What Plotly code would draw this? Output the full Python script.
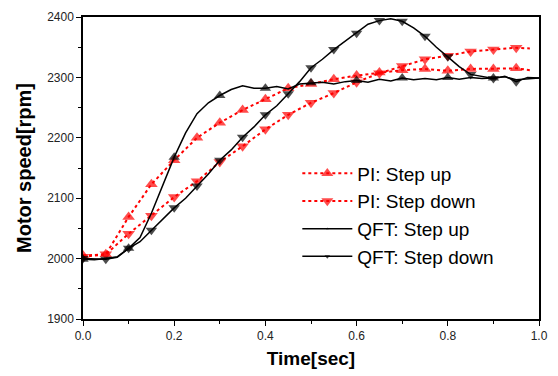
import plotly.graph_objects as go

# PI responses (every 0.05 s, plus line end)
t_pi = [0.0, 0.05, 0.1, 0.15, 0.2, 0.25, 0.3, 0.35, 0.4, 0.45, 0.5, 0.55, 0.6, 0.65, 0.7,
        0.75, 0.8, 0.85, 0.9, 0.95, 0.98]
pi_up = [2005, 2007, 2069, 2123, 2163, 2200, 2225, 2246, 2264, 2282, 2289, 2297, 2303, 2308,
         2312, 2314, 2311, 2314, 2314, 2315, 2312]
pi_down = [2003, 2007, 2041, 2071, 2102, 2128, 2160, 2186, 2214, 2238, 2258, 2274, 2292, 2307,
           2319, 2330, 2336, 2343, 2346, 2349, 2348]
pi_marked = [True] * 20 + [False]

# QFT responses (every 0.025 s)
t_qft = [round(0.025 * i, 3) for i in range(41)]
qft_up = [1999, 1998, 2000, 2003, 2017, 2035, 2075, 2120, 2168, 2208, 2240, 2258, 2270, 2280,
          2286, 2282, 2282, 2285, 2281, 2289, 2291, 2292, 2289, 2293, 2295, 2292, 2297, 2294,
          2299, 2296, 2298, 2296, 2300, 2297, 2300, 2298, 2299, 2301, 2296, 2298, 2299]
qft_down = [2000, 1999, 1999, 2002, 2017, 2028, 2047, 2065, 2084, 2100, 2120, 2140, 2163, 2180,
            2201, 2218, 2238, 2253, 2273, 2293, 2316, 2330, 2346, 2360, 2373, 2388, 2394, 2397,
            2393, 2382, 2368, 2350, 2334, 2318, 2305, 2301, 2298, 2302, 2293, 2300, 2299]
qft_up_marked = [i % 4 == 0 and i < 40 for i in range(41)]
qft_down_marked = [i % 2 == 0 and i < 40 for i in range(41)]

x_ticks = [0.0, 0.2, 0.4, 0.6, 0.8, 1.0]
y_ticks = [1900, 2000, 2100, 2200, 2300, 2400]

FONT = "Arial, Liberation Sans, sans-serif"
RED = "#ff0000"

fig = go.Figure()


def add(t, y, marked, name, color, dash, symbol, msize, width):
    fig.add_trace(go.Scatter(
        x=t, y=y, name=name, mode="lines+markers",
        line=dict(color=color, width=width, dash=dash),
        marker=dict(symbol=symbol, color=color, size=[msize if m else 0 for m in marked],
                    line=dict(width=0)),
    ))


add(t_pi, pi_up, pi_marked, "PI: Step up", RED, "dot", "triangle-up", 11, 2)
add(t_pi, pi_down, pi_marked, "PI: Step down", RED, "dot", "triangle-down", 11, 2)
add(t_qft, qft_up, qft_up_marked, "QFT: Step up", "black", "solid", "triangle-up", 10, 1.5)
add(t_qft, qft_down, qft_down_marked, "QFT: Step down", "black", "solid", "triangle-down", 10, 1.5)

axis_common = dict(
    showline=True, linecolor="black", linewidth=1.5, mirror=True,
    ticks="outside", ticklen=5, tickwidth=1, tickcolor="black",
    showgrid=False, zeroline=False,
    tickfont=dict(family=FONT, size=12, color="#222"),
)

fig.update_xaxes(
    range=[0, 1], tickvals=x_ticks, ticktext=[f"{v:.1f}" for v in x_ticks],
    minor=dict(ticks="outside", ticklen=3, dtick=0.1, tickcolor="black"),
    title=dict(text="<b>Time[sec]</b>", font=dict(family=FONT, size=19, color="black"), standoff=10),
    **axis_common,
)
fig.update_yaxes(
    range=[1900, 2400], tickvals=y_ticks,
    minor=dict(ticks="outside", ticklen=3, dtick=50, tickcolor="black"),
    title=dict(text="<b>Motor speed[rpm]</b>", font=dict(family=FONT, size=20, color="black"), standoff=10),
    **axis_common,
)

fig.update_layout(
    width=558, height=376,
    margin=dict(l=83, r=16, t=10, b=57),
    paper_bgcolor="white", plot_bgcolor="white",
    showlegend=True,
    legend=dict(x=0.47, y=0.545, xanchor="left", yanchor="top",
                font=dict(family=FONT, size=19, color="black"),
                bgcolor="rgba(0,0,0,0)", itemwidth=50, tracegroupgap=0),
)

fig.write_html("out.html")
